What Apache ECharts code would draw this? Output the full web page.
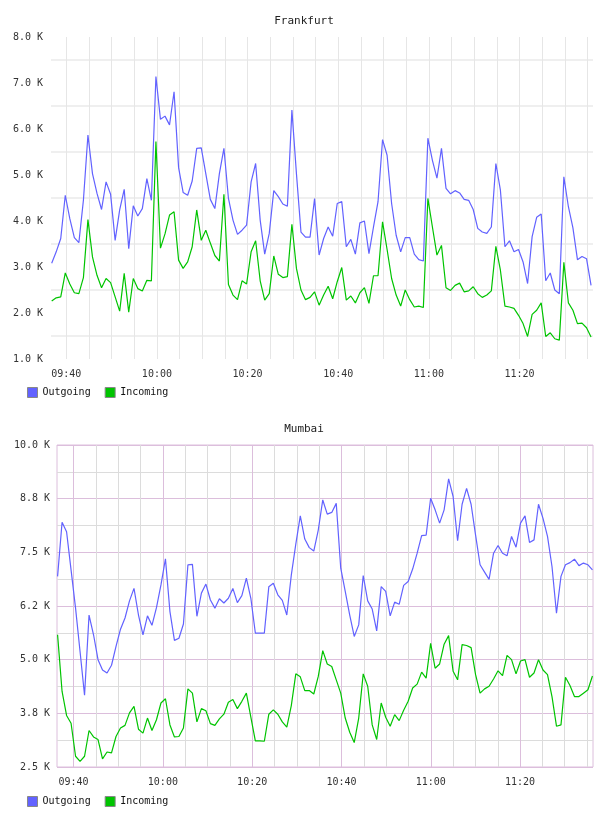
<!DOCTYPE html>
<html>
<head>
<meta charset="utf-8">
<script src="https://cdn.jsdelivr.net/npm/echarts@6/dist/echarts.min.js"></script>
<style>
html,body{margin:0;padding:0;background:#fff;}
#chart{width:608px;height:816px;}
</style>
</head>
<body>
<div id="chart"></div>
<script>
// ---- Data (values in K, one sample per minute) ----
const fraOutgoing = [
3.08,3.33,3.62,4.56,4.05,3.64,3.53,4.45,5.87,5.03,
4.60,4.25,4.85,4.58,3.58,4.24,4.69,3.40,4.33,4.11,
4.27,4.92,4.45,7.14,6.21,6.28,6.09,6.81,5.16,4.62,
4.56,4.87,5.58,5.59,5.03,4.47,4.27,5.03,5.58,4.49,
4.02,3.71,3.80,3.91,4.85,5.25,4.02,3.28,3.73,4.66,
4.53,4.37,4.32,6.41,5.03,3.76,3.65,3.65,4.49,3.26,
3.62,3.87,3.67,4.38,4.42,3.44,3.60,3.28,3.96,4.00,
3.29,3.87,4.42,5.77,5.43,4.38,3.69,3.33,3.64,3.64,
3.28,3.16,3.13,5.80,5.32,4.93,5.58,4.71,4.59,4.66,
4.61,4.47,4.45,4.25,3.84,3.76,3.73,3.87,5.25,4.67,
3.44,3.57,3.33,3.38,3.11,2.64,3.66,4.08,4.15,2.70,
2.87,2.50,2.42,4.96,4.31,3.85,3.16,3.23,3.18,2.60];
const fraIncoming = [
2.26,2.33,2.35,2.87,2.63,2.44,2.42,2.77,4.03,3.22,
2.82,2.55,2.75,2.66,2.35,2.04,2.86,2.02,2.75,2.53,
2.48,2.71,2.70,5.73,3.41,3.72,4.13,4.20,3.15,2.97,
3.11,3.44,4.24,3.58,3.80,3.52,3.25,3.13,4.58,2.62,
2.39,2.29,2.70,2.63,3.33,3.57,2.70,2.28,2.42,3.24,
2.84,2.77,2.79,3.93,2.97,2.50,2.29,2.34,2.46,2.17,
2.39,2.58,2.31,2.68,2.99,2.28,2.37,2.22,2.44,2.55,
2.21,2.81,2.81,3.98,3.38,2.75,2.39,2.15,2.50,2.29,
2.13,2.15,2.12,4.49,3.87,3.26,3.47,2.55,2.49,2.60,
2.65,2.46,2.48,2.57,2.42,2.34,2.39,2.48,3.45,2.93,
2.15,2.13,2.10,1.95,1.77,1.49,1.97,2.06,2.22,1.49,
1.57,1.44,1.41,3.10,2.22,2.06,1.77,1.78,1.68,1.48];
const mumOutgoing = [
6.94,8.20,7.98,7.09,6.20,5.19,4.17,6.04,5.58,5.00,
4.76,4.69,4.87,5.31,5.71,5.97,6.37,6.66,6.04,5.58,
6.02,5.80,6.21,6.74,7.35,6.12,5.45,5.50,5.83,7.21,
7.22,6.01,6.55,6.76,6.39,6.20,6.42,6.32,6.43,6.66,
6.33,6.49,6.90,6.43,5.62,5.62,5.62,6.70,6.78,6.51,
6.38,6.04,6.97,7.69,8.35,7.81,7.61,7.53,8.02,8.72,
8.39,8.43,8.64,7.13,6.59,6.04,5.54,5.81,6.96,6.37,
6.18,5.67,6.70,6.59,6.02,6.34,6.29,6.73,6.82,7.11,
7.48,7.89,7.90,8.76,8.49,8.18,8.49,9.21,8.80,7.77,
8.62,8.99,8.62,7.90,7.21,7.04,6.87,7.48,7.66,7.48,
7.42,7.87,7.62,8.18,8.35,7.73,7.79,8.62,8.29,7.87,
7.17,6.08,6.94,7.21,7.26,7.34,7.19,7.25,7.21,7.09];
const mumIncoming = [
5.58,4.26,3.70,3.52,2.75,2.63,2.75,3.35,3.20,3.14,
2.69,2.85,2.83,3.21,3.41,3.47,3.76,3.91,3.38,3.29,
3.64,3.35,3.60,3.99,4.09,3.48,3.20,3.21,3.41,4.32,
4.22,3.55,3.86,3.81,3.51,3.47,3.62,3.73,4.01,4.07,
3.86,4.03,4.22,3.66,3.11,3.11,3.10,3.73,3.83,3.73,
3.55,3.43,3.93,4.67,4.60,4.28,4.28,4.20,4.61,5.21,
4.90,4.84,4.53,4.22,3.64,3.31,3.07,3.64,4.67,4.38,
3.48,3.14,3.99,3.66,3.45,3.72,3.58,3.82,4.03,4.34,
4.43,4.71,4.57,5.38,4.80,4.90,5.36,5.56,4.73,4.53,
5.35,5.33,5.28,4.65,4.22,4.32,4.38,4.55,4.74,4.63,
5.10,5.00,4.67,4.97,5.00,4.59,4.69,5.00,4.76,4.65,
4.14,3.45,3.48,4.59,4.40,4.14,4.14,4.22,4.30,4.62];

// time = minutes past 09:00
const fraTimeStart = 36.78, fraTimeStep = 1.0, fraRange = [36.63, 156.21];
const mumTimeStart = 36.42, mumTimeStep = 1.0066, mumRange = [36.29, 156.33];

const timeTickValues = [40, 60, 80, 100, 120, 140];
const timeTickLabels = ['09:40', '10:00', '10:20', '10:40', '11:00', '11:20'];
const timeGridValues = [40,45,50,55,60,65,70,75,80,85,90,95,100,105,110,115,120,125,130,135,140,145,150,155];

const fraYTickValues = [1, 2, 3, 4, 5, 6, 7, 8];
const fraYTickLabels = ['1.0 K','2.0 K','3.0 K','4.0 K','5.0 K','6.0 K','7.0 K','8.0 K'];
const mumYTickValues = [2.5, 3.75, 5, 6.25, 7.5, 8.75, 10];
const mumYTickLabels = ['2.5 K','3.8 K','5.0 K','6.2 K','7.5 K','8.8 K','10.0 K'];

const seriesNames = ['Outgoing', 'Incoming'];
const titles = ['Frankfurt', 'Mumbai'];

// ---- Styles ----
const BLUE = '#6262ff', GREEN = '#00c400';
const MONO = "'DejaVu Sans Mono', monospace";
const PURPLE = '#dcbedc', GREY = '#dcdcdc';

function toPts(vals, t0, step) { return vals.map((v, i) => [t0 + i * step, v]); }
function labelFrom(values, labels) {
  return function (v) {
    for (let k = 0; k < values.length; k++) if (Math.abs(values[k] - v) < 1e-6) return labels[k];
    return '';
  };
}

const axisText = { fontFamily: MONO, fontSize: 10, color: '#333' };

const xAxisBase = (gi, range, gridColors) => ({
  type: 'value', gridIndex: gi, min: range[0], max: range[1],
  axisLine: { show: false }, axisTick: { show: false, customValues: timeGridValues },
  axisLabel: Object.assign({ customValues: timeTickValues, margin: 10,
    formatter: labelFrom(timeTickValues, timeTickLabels) }, axisText),
  splitLine: { show: true, lineStyle: { color: gridColors, width: 1 } }
});

const legendBase = (top) => ({
  data: seriesNames, left: 22, top: top, icon: 'rect', itemWidth: 10, itemHeight: 10, itemGap: 14,
  itemStyle: { borderColor: '#888', borderWidth: 1 },
  textStyle: { fontFamily: MONO, fontSize: 10, color: '#111' }
});

const option = {
  animation: false,
  backgroundColor: '#fff',
  title: [
    { text: titles[0], left: 'center', top: 11, textStyle: { fontFamily: MONO, fontSize: 11, fontWeight: 'normal', color: '#222' } },
    { text: titles[1], left: 'center', top: 419, textStyle: { fontFamily: MONO, fontSize: 11, fontWeight: 'normal', color: '#222' } }
  ],
  legend: [ legendBase(382), legendBase(791) ],
  grid: [
    { left: 51, top: 37, width: 542, height: 322, containLabel: false, show: false },
    { left: 57, top: 445, width: 536, height: 322, containLabel: false, show: true,
      borderColor: PURPLE, borderWidth: 1, backgroundColor: 'transparent' }
  ],
  xAxis: [
    xAxisBase(0, fraRange, ['#e6e6e6']),
    xAxisBase(1, mumRange, [PURPLE, GREY, GREY, GREY])
  ],
  yAxis: [
    { type: 'value', gridIndex: 0, min: 1, max: 8, interval: 0.5,
      axisLine: { show: false }, axisTick: { show: false },
      axisLabel: Object.assign({ margin: 8, formatter: labelFrom(fraYTickValues, fraYTickLabels) }, axisText),
      splitLine: { show: true, lineStyle: { color: ['rgba(0,0,0,0)', '#efefef'], width: 2 } } },
    { type: 'value', gridIndex: 1, min: 2.5, max: 10, interval: 0.625,
      axisLine: { show: false }, axisTick: { show: false },
      axisLabel: Object.assign({ margin: 7, formatter: labelFrom(mumYTickValues, mumYTickLabels) }, axisText),
      splitLine: { show: true, lineStyle: { color: [PURPLE, GREY], width: 1 } } }
  ],
  series: [
    { name: seriesNames[0], type: 'line', xAxisIndex: 0, yAxisIndex: 0, showSymbol: false, symbol: 'none',
      data: toPts(fraOutgoing, fraTimeStart, fraTimeStep), itemStyle: { color: BLUE }, lineStyle: { color: BLUE, width: 1.2 } },
    { name: seriesNames[1], type: 'line', xAxisIndex: 0, yAxisIndex: 0, showSymbol: false, symbol: 'none',
      data: toPts(fraIncoming, fraTimeStart, fraTimeStep), itemStyle: { color: GREEN }, lineStyle: { color: GREEN, width: 1.2 } },
    { name: seriesNames[0], type: 'line', xAxisIndex: 1, yAxisIndex: 1, showSymbol: false, symbol: 'none',
      data: toPts(mumOutgoing, mumTimeStart, mumTimeStep), itemStyle: { color: BLUE }, lineStyle: { color: BLUE, width: 1.2 } },
    { name: seriesNames[1], type: 'line', xAxisIndex: 1, yAxisIndex: 1, showSymbol: false, symbol: 'none',
      data: toPts(mumIncoming, mumTimeStart, mumTimeStep), itemStyle: { color: GREEN }, lineStyle: { color: GREEN, width: 1.2 } }
  ]
};

const chart = echarts.init(document.getElementById('chart'), null, { renderer: 'canvas' });
chart.setOption(option);
</script>
</body>
</html>
